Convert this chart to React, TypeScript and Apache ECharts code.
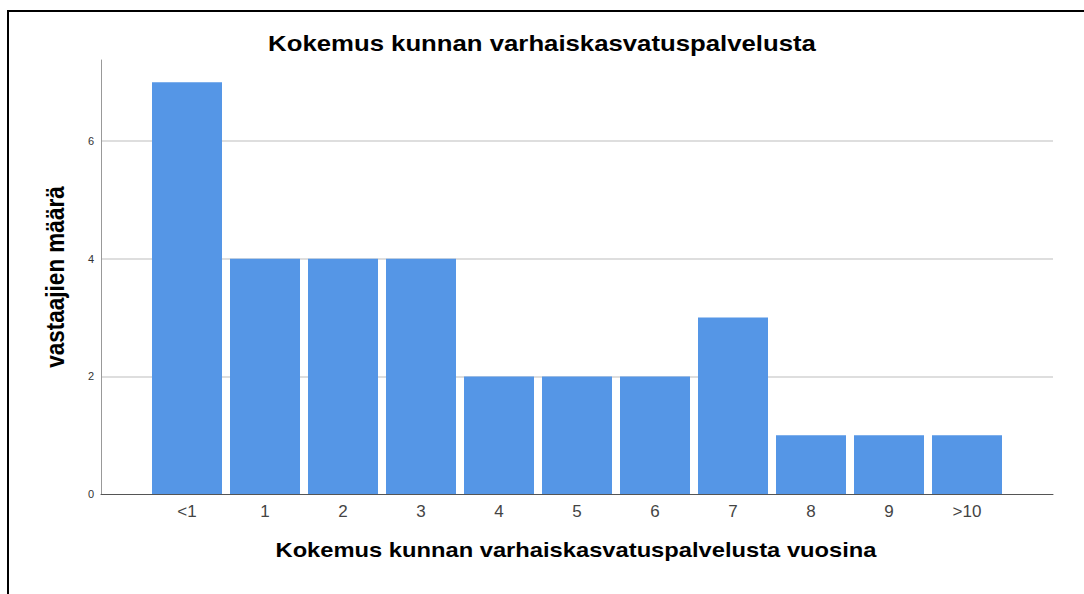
import React, { useEffect, useRef } from "react";
import * as echarts from "echarts";

const categories = ["<1", "1", "2", "3", "4", "5", "6", "7", "8", "9", ">10"];
const counts = [7, 4, 4, 4, 2, 2, 2, 3, 1, 1, 1];
const titleText = "Kokemus kunnan varhaiskasvatuspalvelusta";
const xAxisTitle = "Kokemus kunnan varhaiskasvatuspalvelusta vuosina";
const yAxisTitle = "vastaajien määrä";
const yMax = 7.38;

const FONT = '"Liberation Sans", Arial, Helvetica, sans-serif';

export default function App() {
  const ref = useRef<HTMLDivElement>(null);
  useEffect(() => {
    if (!ref.current) return;
    const chart = echarts.init(ref.current, null, { renderer: "svg" });
    chart.setOption({
      animation: false,
      backgroundColor: "#ffffff",
      grid: [
        { left: 101, right: 31, top: 60, bottom: 100 },
        { left: 148, right: 78, top: 60, bottom: 100 },
      ],
      xAxis: [
        {
          type: "value",
          gridIndex: 0,
          min: 0,
          max: 1,
          axisLine: { show: true, lineStyle: { color: "#555555", width: 1 } },
          axisTick: { show: false },
          axisLabel: { show: false },
          splitLine: { show: false },
        },
        {
          type: "category",
          gridIndex: 1,
          data: categories,
          axisLine: { show: false },
          axisTick: { show: false },
          axisLabel: {
            color: "#444444",
            fontSize: 17,
            fontFamily: FONT,
            margin: 9,
          },
        },
      ],
      yAxis: [
        {
          type: "value",
          gridIndex: 0,
          min: 0,
          max: yMax,
          interval: 2,
          axisLine: { show: true, lineStyle: { color: "#999999", width: 1 } },
          axisTick: { show: false },
          axisLabel: {
            color: "#333333",
            fontSize: 11,
            fontFamily: FONT,
            margin: 7,
            showMaxLabel: false,
            formatter: (v: number) => (Number.isInteger(v) ? String(v) : ""),
          },
          splitLine: {
            show: true,
            showMinLine: false,
            showMaxLine: false,
            lineStyle: { color: "#d3d3d3", width: 1.5 },
          },
        },
        {
          type: "value",
          gridIndex: 1,
          min: 0,
          max: yMax,
          show: false,
          splitLine: { show: false },
        },
      ],
      series: [
        {
          type: "bar",
          xAxisIndex: 1,
          yAxisIndex: 1,
          data: counts,
          barWidth: 70,
          itemStyle: { color: "#5596E6" },
        },
      ],
      graphic: [
        {
          type: "line",
          shape: { x1: 8, y1: 11, x2: 1084, y2: 11 },
          style: { stroke: "#000000", lineWidth: 2 },
        },
        {
          type: "line",
          shape: { x1: 8, y1: 10, x2: 8, y2: 594 },
          style: { stroke: "#000000", lineWidth: 2 },
        },
        {
          type: "text",
          x: 542,
          y: 43,
          scaleX: 1.17,
          style: {
            text: titleText,
            fill: "#000000",
            fontSize: 22,
            fontWeight: "bold",
            fontFamily: FONT,
            textAlign: "center",
            textVerticalAlign: "middle",
            align: "center",
            verticalAlign: "middle",
          },
        },
        {
          type: "text",
          x: 576,
          y: 550,
          scaleX: 1.13,
          style: {
            text: xAxisTitle,
            fill: "#000000",
            fontSize: 21,
            fontWeight: "bold",
            fontFamily: FONT,
            textAlign: "center",
            textVerticalAlign: "middle",
            align: "center",
            verticalAlign: "middle",
          },
        },
        {
          type: "text",
          x: 55,
          y: 277,
          rotation: Math.PI / 2,
          scaleY: 1.16,
          style: {
            text: yAxisTitle,
            fill: "#000000",
            fontSize: 22.5,
            fontWeight: "bold",
            fontFamily: FONT,
            textAlign: "center",
            textVerticalAlign: "middle",
            align: "center",
            verticalAlign: "middle",
          },
        },
      ],
    });
    return () => chart.dispose();
  }, []);
  return (
    <div
      ref={ref}
      style={{ position: "absolute", left: 0, top: 0, width: 1084, height: 594 }}
    />
  );
}
